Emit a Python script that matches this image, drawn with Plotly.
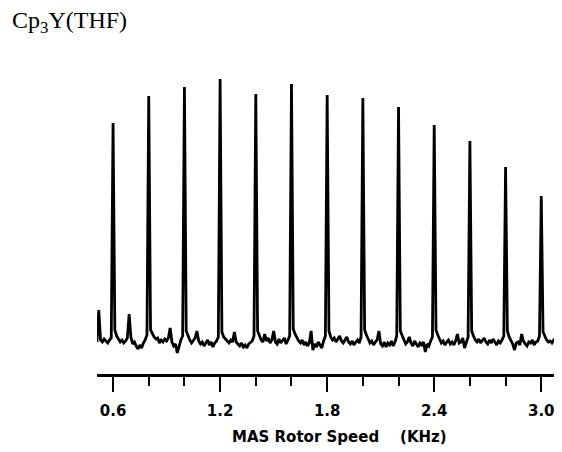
import numpy as np
import plotly.graph_objects as go

# Rotor speed grid (kHz) for the sampled baseline, 0.51 .. 3.10
speed_start = 0.51
speed_step = 0.01

# baseline readings (arbitrary intensity, 0 = mean baseline), one row per 0.2 kHz
baseline = (
    [-2, 30, 0, -2, 1, -1, -3, 0, 2]                                            # 0.51-0.59
    + [0, 10, 4, 1, -2, 0, -3, -1, 2, 26, 3, -4, -2, -6, -9, -5, -8, -3, 0, 5]     # 0.60-0.79
    + [0, 10, 6, 3, 1, 2, -3, 0, -2, 1, -1, 2, 12, -2, -6, -4, -13, -5, 0, 4]      # 0.80-0.99
    + [0, 9, 4, 0, -3, -1, 2, 9, -1, -4, -2, -6, -3, 0, -5, -2, -7, -3, -1, 3]     # 1.00-1.19
    + [0, 8, 3, 1, -1, -3, 0, -2, 8, -2, -4, -6, -3, -7, -5, -8, -4, -2, -1, 4]    # 1.20-1.39
    + [0, 9, 5, 0, -2, 6, -1, 2, -3, 0, 9, -2, -4, 1, -3, -1, 2, -4, 0, 4]         # 1.40-1.59
    + [0, 11, 6, 2, -1, -3, 0, -5, -2, -6, -3, 9, -10, -4, -7, -2, -5, -8, -1, 4]  # 1.60-1.79
    + [0, 9, 3, 0, 2, -2, 1, 4, -1, -3, 0, 3, -2, -4, -1, -5, -2, 0, -3, 3]        # 1.80-1.99
    + [0, 10, 5, 1, -3, -1, -5, -2, 0, 9, -4, -6, -2, -7, -3, -5, -1, -6, -2, 4]   # 2.00-2.19
    + [0, 9, 4, -1, -4, -2, 3, -3, -6, -1, -4, -7, -3, -5, -2, -12, -4, -6, -1, 3] # 2.20-2.39
    + [0, 10, 5, 1, -3, -1, -5, -2, 0, -4, -2, -5, -1, 6, -3, -2, 2, -8, -3, 3]    # 2.40-2.59
    + [0, 9, 4, 0, -2, 1, -3, -1, 2, -2, -4, 0, -3, 1, -2, -5, -1, -3, 0, 4]       # 2.60-2.79
    + [0, 9, 3, -1, -4, -10, -3, -2, -5, 6, -1, -4, -6, -2, -3, 0, -5, -2, -1, 4]  # 2.80-2.99
    + [0, 8, 3, 0, -2, -1, -3, 0, -2, 4, -1]                                      # 3.00-3.10
)

# spinning sideband peaks: rotor speed (kHz) and peak height (same units)
peak_speeds = [0.6, 0.8, 1.0, 1.2, 1.4, 1.6, 1.8, 2.0, 2.2, 2.4, 2.6, 2.8, 3.0]
peak_heights = [217, 244, 253, 261, 246, 256, 245, 242, 233, 215, 199, 173, 144]

tick_values = [0.6, 1.2, 1.8, 2.4, 3.0]
tick_labels = ["0.6", "1.2", "1.8", "2.4", "3.0"]

speed = np.round(speed_start + speed_step * np.arange(len(baseline)), 2)
signal = np.array(baseline, dtype=float)
for s, h in zip(peak_speeds, peak_heights):
    signal[int(np.argmin(np.abs(speed - s)))] = h

fig = go.Figure()
fig.add_trace(go.Scatter(
    x=speed, y=signal, mode="lines",
    line=dict(color="black", width=2.8),
    hoverinfo="skip", showlegend=False,
))

fig.update_layout(
    width=554, height=444,
    margin=dict(l=89, r=2, t=52, b=78),
    paper_bgcolor="white", plot_bgcolor="white",
    xaxis=dict(
        range=[0.51, 3.105],
        showgrid=False, zeroline=False,
        showline=True, linecolor="black", linewidth=2.5,
        ticks="outside", ticklen=15, tickwidth=2, tickcolor="black",
        tickvals=tick_values, ticktext=tick_labels,
        ticklabelstandoff=6,
        tickfont=dict(family="DejaVu Sans", size=15, color="black", weight="bold"),
        minor=dict(dtick=0.2, tick0=0.6, ticks="outside", ticklen=9,
                   tickwidth=1.5, tickcolor="black"),
    ),
    yaxis=dict(range=[-34, 280], visible=False),
    annotations=[
        dict(text="Cp<sub>3</sub>Y(THF)", xref="paper", yref="paper",
             x=-0.1879, y=1.121, xanchor="left", yanchor="middle", showarrow=False,
             font=dict(family="Liberation Serif", size=24, color="black")),
        dict(text="MAS Rotor Speed&nbsp;&nbsp;&nbsp;&nbsp;(KHz)", xref="paper", yref="paper",
             x=0.5227, y=-0.2006, xanchor="center", yanchor="middle", showarrow=False,
             font=dict(family="DejaVu Sans", size=15, color="black", weight="bold")),
    ],
)

fig.write_html("out.html")
